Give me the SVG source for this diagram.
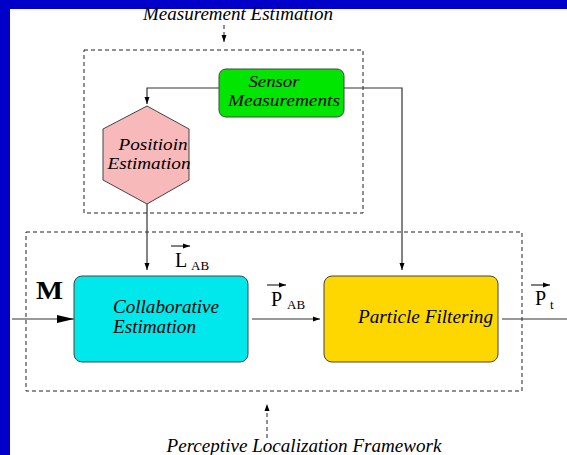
<svg xmlns="http://www.w3.org/2000/svg" width="567" height="455" viewBox="0 0 567 455">
<style>
.t{font-family:"Liberation Serif","Times New Roman",serif;font-style:italic;fill:#000}
.m{font-family:"Liberation Serif","Times New Roman",serif;fill:#000}
.dash{fill:none;stroke:#222;stroke-width:1;stroke-dasharray:4 3}
.ln{fill:none;stroke:#333;stroke-width:1.2}
.box{stroke:#444;stroke-width:1}
</style>
<defs>
<marker id="ah" markerWidth="8" markerHeight="8" refX="7" refY="4" orient="auto" markerUnits="userSpaceOnUse">
<path d="M0,1.5 L7,4 L0,6.5 Z" fill="#000"/>
</marker>
<marker id="big" markerWidth="18" markerHeight="10" refX="17" refY="5" orient="auto" markerUnits="userSpaceOnUse">
<path d="M0,1 L17,5 L0,9 Z" fill="#000"/>
</marker>
<marker id="vec" markerWidth="8" markerHeight="6" refX="7" refY="3" orient="auto" markerUnits="userSpaceOnUse">
<path d="M0,0.5 L7,3 L0,5.5 Z" fill="#000"/>
</marker>
</defs>
<rect x="0" y="0" width="567" height="455" fill="#fff"/>
<rect x="0" y="0" width="567" height="9" fill="#0000c8"/>
<rect x="0" y="0" width="10" height="455" fill="#0000c8"/>

<g id="frames">
<rect class="dash" x="84" y="50" width="279" height="163"/>
<rect class="dash" x="26" y="232" width="496" height="159"/>
<text class="t" x="238" y="20" font-size="18" text-anchor="middle" textLength="190" lengthAdjust="spacingAndGlyphs">Measurement Estimation</text>
<line class="dash" x1="224" y1="25" x2="224" y2="42" marker-end="url(#ah)"/>
<text class="t" x="304" y="452" font-size="18" text-anchor="middle" textLength="275" lengthAdjust="spacingAndGlyphs">Perceptive Localization Framework</text>
<line class="dash" x1="267" y1="438" x2="267" y2="404" marker-end="url(#ah)"/>
</g>

<g id="connectors">
<polyline class="ln" points="219,88 147,88 147,104" marker-end="url(#ah)"/>
<polyline class="ln" points="344,88 402,88 402,270" marker-end="url(#ah)"/>
<line class="ln" x1="147" y1="204" x2="147" y2="270" marker-end="url(#ah)"/>
<line class="ln" x1="12" y1="319" x2="74" y2="319" marker-end="url(#big)"/>
<line class="ln" x1="252" y1="319" x2="320" y2="319" marker-end="url(#ah)"/>
<line class="ln" x1="502" y1="319" x2="567" y2="319"/>
</g>

<g id="sensor">
<rect class="box" x="219" y="69" width="125" height="48" rx="7" fill="#00e600"/>
<text class="t" x="274" y="87" font-size="17" text-anchor="middle" textLength="51" lengthAdjust="spacingAndGlyphs">Sensor</text>
<text class="t" x="284" y="106" font-size="17" text-anchor="middle" textLength="112" lengthAdjust="spacingAndGlyphs">Measurements</text>
</g>

<g id="position">
<polygon class="box" points="147,106 189,129 189,180 147,204 103,180 103,129" fill="#f7b9b9"/>
<text class="t" x="153" y="150" font-size="16" text-anchor="middle" textLength="69" lengthAdjust="spacingAndGlyphs">Positioin</text>
<text class="t" x="149" y="169" font-size="16" text-anchor="middle" textLength="83" lengthAdjust="spacingAndGlyphs">Estimation</text>
</g>

<g id="collab">
<rect class="box" x="74" y="276" width="174" height="86" rx="8" fill="#00e8ec"/>
<text class="t" x="113" y="313" font-size="18" textLength="106" lengthAdjust="spacingAndGlyphs">Collaborative</text>
<text class="t" x="113" y="333" font-size="18" textLength="83" lengthAdjust="spacingAndGlyphs">Estimation</text>
</g>

<g id="particle">
<rect class="box" x="324" y="276" width="174" height="86" rx="8" fill="#ffd700"/>
<text class="t" x="358" y="323" font-size="18" textLength="135" lengthAdjust="spacingAndGlyphs">Particle Filtering</text>
</g>

<g id="labels">
<text class="m" x="36" y="299" font-size="26" font-weight="bold" textLength="27" lengthAdjust="spacingAndGlyphs">M</text>
<line x1="171" y1="246" x2="190" y2="246" stroke="#000" stroke-width="1" marker-end="url(#vec)"/>
<text class="m" x="175" y="267" font-size="20">L</text>
<text class="m" x="191" y="270" font-size="13">AB</text>
<line x1="267" y1="285" x2="286" y2="285" stroke="#000" stroke-width="1" marker-end="url(#vec)"/>
<text class="m" x="271" y="306" font-size="20">P</text>
<text class="m" x="287" y="309" font-size="13">AB</text>
<line x1="531" y1="285" x2="550" y2="285" stroke="#000" stroke-width="1" marker-end="url(#vec)"/>
<text class="m" x="535" y="305" font-size="20">P</text>
<text class="m" x="550" y="309" font-size="13">t</text>
</g>
</svg>
